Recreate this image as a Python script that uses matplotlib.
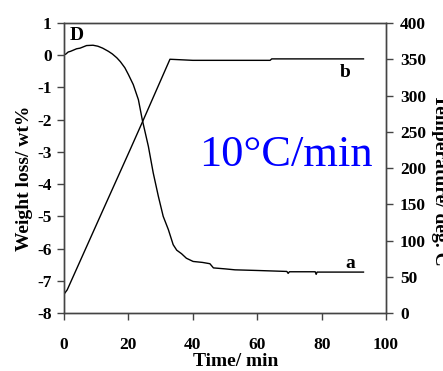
import matplotlib
matplotlib.use('Agg')
import matplotlib.pyplot as plt

plt.rcParams['font.family'] = ['Liberation Serif', 'DejaVu Serif']

# weight loss curve (a)
t_w = [0, 0.5, 1.3, 2, 3.9, 5, 7, 9, 10.5, 12, 13.8, 15, 16.4, 17.5, 18.9, 20,
       21.5, 23.1, 24.3, 26.2, 27.7, 29.3, 30.8, 32.4, 33.9, 35, 36.5, 38,
       40.1, 43, 45.3, 46.4, 50, 53.1, 60, 69.2, 69.6, 70, 78, 78.3, 78.6, 93]
weight = [0.02, 0.03, 0.1, 0.12, 0.2, 0.22, 0.3, 0.31, 0.28, 0.22, 0.12, 0.04,
          -0.08, -0.2, -0.39, -0.6, -0.91, -1.38, -2.0, -2.83, -3.65, -4.38,
          -5.0, -5.41, -5.88, -6.05, -6.16, -6.3, -6.4, -6.43, -6.47,
          -6.6, -6.63, -6.66, -6.68, -6.71, -6.77, -6.72, -6.72, -6.8, -6.73,
          -6.73]

# temperature curve (b)
t_T = [0, 1, 12.2, 20.5, 24.6, 32.9, 40, 64, 64.5, 93]
temp = [26, 32, 143, 225, 266, 350, 348.5, 348.5, 350.5, 350.5]

left_ticks = [1, 0, -1, -2, -3, -4, -5, -6, -7, -8]
right_ticks = [0, 50, 100, 150, 200, 250, 300, 350, 400]
x_ticks = [0, 20, 40, 60, 80, 100]

fig = plt.figure(figsize=(4.43, 3.71), dpi=100)
ax = fig.add_axes([0.1445, 0.1563, 0.7269, 0.7817])
ax2 = ax.twinx()

ax.plot(t_w, weight, color='black', linewidth=1.0)
ax2.plot(t_T, temp, color='black', linewidth=1.0)

ax.set_xlim(0, 100)
ax.set_ylim(-8, 1)
ax2.set_ylim(0, 400)
ax.set_xticks(x_ticks)
ax.set_yticks(left_ticks)
ax2.set_yticks(right_ticks)

tick_font = {'fontsize': 12.5, 'fontweight': 'bold'}
ax.set_xticklabels([str(v) for v in x_ticks], **tick_font)
ax.set_yticklabels([str(v) for v in left_ticks], **tick_font)
ax2.set_yticklabels([str(v) for v in right_ticks], **tick_font)

for a in (ax, ax2):
    for s in a.spines.values():
        s.set_color('#444444')
        s.set_linewidth(1.0)
ax.tick_params(axis='y', direction='out', length=5, width=1, color='#444444', pad=4)
ax.tick_params(axis='x', direction='out', length=5, width=1, color='#444444', pad=12)
ax2.tick_params(axis='y', direction='out', length=5, width=1, color='#444444', pad=5)

ax.text(3.8, 0.6, 'D', fontsize=14, fontweight='bold', ha='center', va='center')
ax.text(87.3, -0.55, 'b', fontsize=14, fontweight='bold', ha='center', va='center')
ax.text(88.8, -6.45, 'a', fontsize=14, fontweight='bold', ha='center', va='center')
ax.text(69, -3.1, '10\u00b0C/min', fontsize=32, color='blue', ha='center', va='center')

fig.text(236 / 443, 1 - 361 / 371, 'Time/ min', fontsize=14, fontweight='bold',
         ha='center', va='center')
fig.text(25 / 443, 1 - 178 / 371, 'Weight loss/ wt%', fontsize=14, fontweight='bold',
         ha='center', va='center', rotation=90)
fig.text(431 / 443, 1 - 180 / 371, 'Temperature/ deg. C', fontsize=14, fontweight='bold',
         ha='left', va='center', rotation=270)
fig.text(225 / 443, 0.992, 'Time/ min', fontsize=14, fontweight='bold', color='#aaaaaa',
         ha='center', va='bottom')

fig.savefig('out.png', dpi=100)
